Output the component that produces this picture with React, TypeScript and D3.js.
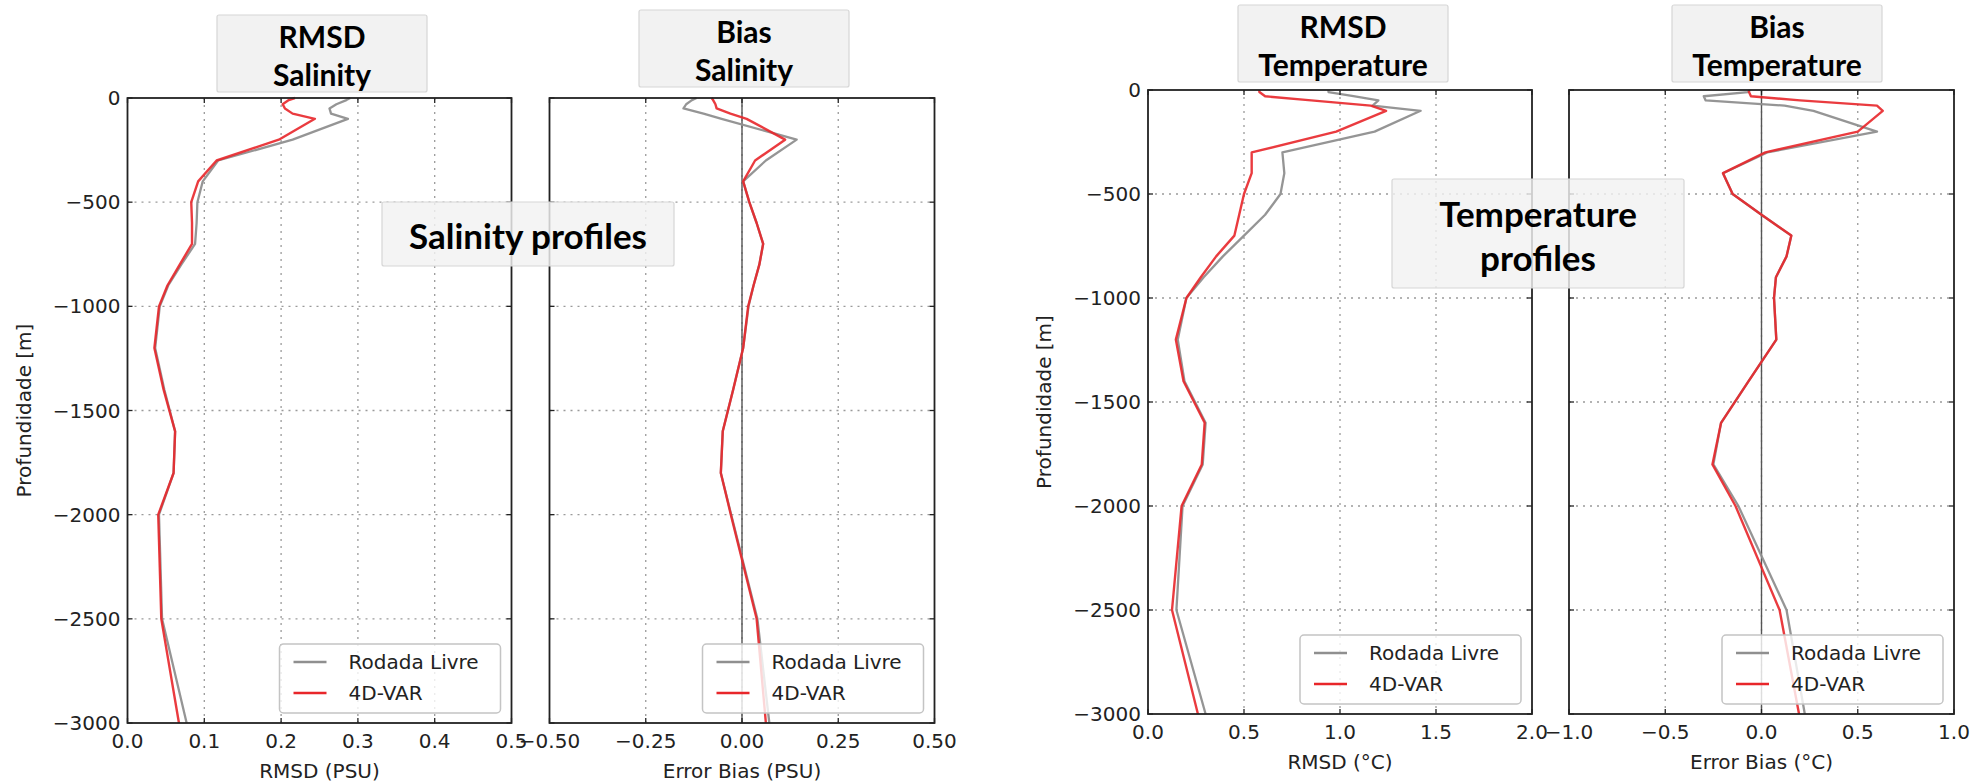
import React from 'react';
import * as d3 from 'd3';

// ---- data (depth levels in metres, positive down) ----
const depths = [0, 10, 30, 50, 75, 100, 200, 300, 400, 500, 600, 700, 800, 900, 1000, 1200, 1400, 1600, 1800, 2000, 2500, 3000];

const salRmsdLivre = [0.290, 0.285, 0.272, 0.263, 0.265, 0.287, 0.215, 0.118, 0.098, 0.091, 0.090, 0.088, 0.070, 0.053, 0.042, 0.036, 0.048, 0.062, 0.060, 0.041, 0.045, 0.077];
const salRmsd4dvar = [0.218, 0.210, 0.202, 0.205, 0.215, 0.244, 0.197, 0.116, 0.092, 0.083, 0.084, 0.084, 0.068, 0.052, 0.041, 0.035, 0.047, 0.062, 0.060, 0.040, 0.044, 0.067];

const salBiasLivre = [-0.118, -0.130, -0.145, -0.152, -0.100, -0.053, 0.142, 0.062, 0.003, 0.019, 0.038, 0.055, 0.045, 0.030, 0.017, 0.003, -0.023, -0.050, -0.055, -0.028, 0.040, 0.071];
const salBias4dvar = [-0.079, -0.075, -0.069, -0.066, -0.030, 0.012, 0.112, 0.034, 0.003, 0.019, 0.038, 0.055, 0.045, 0.030, 0.016, 0.003, -0.023, -0.050, -0.055, -0.029, 0.038, 0.062];

const tempRmsdLivre = [0.94, 0.94, 1.07, 1.20, 1.17, 1.42, 1.18, 0.70, 0.71, 0.69, 0.61, 0.50, 0.39, 0.29, 0.20, 0.155, 0.19, 0.30, 0.285, 0.18, 0.148, 0.30];
const tempRmsd4dvar = [0.58, 0.58, 0.61, 0.85, 1.16, 1.24, 0.98, 0.54, 0.54, 0.50, 0.475, 0.45, 0.355, 0.275, 0.20, 0.145, 0.185, 0.295, 0.28, 0.175, 0.125, 0.26];

const tempBiasLivre = [-0.06, -0.07, -0.30, -0.29, 0.12, 0.27, 0.60, 0.03, -0.20, -0.15, 0.00, 0.155, 0.13, 0.075, 0.065, 0.077, -0.067, -0.21, -0.25, -0.12, 0.13, 0.225];
const tempBias4dvar = [-0.065, -0.065, -0.055, 0.20, 0.60, 0.63, 0.50, 0.02, -0.20, -0.15, 0.00, 0.155, 0.13, 0.075, 0.065, 0.077, -0.067, -0.21, -0.255, -0.135, 0.094, 0.195];

const yTicks = [0, -500, -1000, -1500, -2000, -2500, -3000];
const salRmsdTicks = [0, 0.1, 0.2, 0.3, 0.4, 0.5];
const salBiasTicks = [-0.5, -0.25, 0, 0.25, 0.5];
const tempRmsdTicks = [0, 0.5, 1.0, 1.5, 2.0];
const tempBiasTicks = [-1, -0.5, 0, 0.5, 1];

const legendLabels = ['Rodada Livre', '4D-VAR'];
const yLabel = 'Profundidade [m]';

const W = 1979;
const H = 783;
const AX_FONT = "'DejaVu Sans', sans-serif";
const BOX_FONT = "Lato, 'Open Sans', sans-serif";
const GRAY = '#8f8f8f';
const RED = '#e8262a';

type Panel = {
  left: number; right: number; top: number; bottom: number;
  domain: [number, number]; ticks: number[]; fmt: string; xLabel: string;
  livre: number[]; vars: number[]; showY: boolean; zero: boolean;
};

const panels: Panel[] = [
  { left: 127.5, right: 511.5, top: 98, bottom: 723, domain: [0, 0.5], ticks: salRmsdTicks, fmt: '.1f', xLabel: 'RMSD (PSU)', livre: salRmsdLivre, vars: salRmsd4dvar, showY: true, zero: false },
  { left: 549.5, right: 934.5, top: 98, bottom: 723, domain: [-0.5, 0.5], ticks: salBiasTicks, fmt: '.2f', xLabel: 'Error Bias (PSU)', livre: salBiasLivre, vars: salBias4dvar, showY: false, zero: true },
  { left: 1148, right: 1532, top: 90, bottom: 714, domain: [0, 2], ticks: tempRmsdTicks, fmt: '.1f', xLabel: 'RMSD (°C)', livre: tempRmsdLivre, vars: tempRmsd4dvar, showY: true, zero: false },
  { left: 1569, right: 1954, top: 90, bottom: 714, domain: [-1, 1], ticks: tempBiasTicks, fmt: '.1f', xLabel: 'Error Bias (°C)', livre: tempBiasLivre, vars: tempBias4dvar, showY: false, zero: true },
];

type Box = { x: number; y: number; w: number; h: number; lines: string[]; size: number; lineY: number[]; alpha: number };
const boxes: Box[] = [
  { x: 217, y: 15, w: 210, h: 77, lines: ['RMSD', 'Salinity'], size: 30, lineY: [20.5, 58.5], alpha: 1 },
  { x: 639, y: 10, w: 210, h: 77, lines: ['Bias', 'Salinity'], size: 30, lineY: [20.5, 58.5], alpha: 1 },
  { x: 1238, y: 5, w: 210, h: 77, lines: ['RMSD', 'Temperature'], size: 30, lineY: [20.5, 58.5], alpha: 1 },
  { x: 1672, y: 5, w: 210, h: 77, lines: ['Bias', 'Temperature'], size: 30, lineY: [20.5, 58.5], alpha: 1 },
  { x: 382, y: 202, w: 292, h: 64, lines: ['Salinity profiles'], size: 35, lineY: [33], alpha: 0.82 },
  { x: 1392, y: 179, w: 292, h: 109, lines: ['Temperature', 'profiles'], size: 35, lineY: [34, 78], alpha: 0.82 },
];

function PanelView({ p }: { p: Panel }) {
  const x = d3.scaleLinear().domain(p.domain).range([p.left, p.right]);
  const y = d3.scaleLinear().domain([0, -3000]).range([p.top, p.bottom]);
  const line = d3.line<number>().x((v) => x(v)).y((_, i) => y(-depths[i]));
  const fmt = d3.format(p.fmt);
  const tl = 5;
  return (
    <g>
      {/* grid */}
      {p.ticks.filter((t) => t !== p.domain[0] && t !== p.domain[1]).map((t, i) => (
        <line key={'gx' + i} x1={x(t)} x2={x(t)} y1={p.top} y2={p.bottom} stroke="#9a9a9a" strokeWidth={1.3} strokeDasharray="2,5" />
      ))}
      {yTicks.filter((t) => t !== 0 && t !== -3000).map((t, i) => (
        <line key={'gy' + i} x1={p.left} x2={p.right} y1={y(t)} y2={y(t)} stroke="#9a9a9a" strokeWidth={1.3} strokeDasharray="2,5" />
      ))}
      {p.zero && <line x1={x(0)} x2={x(0)} y1={p.top} y2={p.bottom} stroke="#555" strokeWidth={1.4} />}
      {/* lines */}
      <path d={line(p.livre) || ''} fill="none" stroke={GRAY} strokeWidth={2.3} strokeOpacity={0.95} strokeLinejoin="round" />
      <path d={line(p.vars) || ''} fill="none" stroke={RED} strokeWidth={2.4} strokeOpacity={0.9} strokeLinejoin="round" />
      {/* ticks */}
      {p.ticks.map((t, i) => (
        <g key={'tx' + i}>
          <line x1={x(t)} x2={x(t)} y1={p.bottom} y2={p.bottom - tl} stroke="#222" strokeWidth={1.3} />
          <line x1={x(t)} x2={x(t)} y1={p.top} y2={p.top + tl} stroke="#222" strokeWidth={1.3} />
          <text x={x(t)} y={p.bottom + 18} textAnchor="middle" dominantBaseline="central" fontFamily={AX_FONT} fontSize={20} fill="#222">{fmt(t)}</text>
        </g>
      ))}
      {yTicks.map((t, i) => (
        <g key={'ty' + i}>
          <line x1={p.left} x2={p.left + tl} y1={y(t)} y2={y(t)} stroke="#222" strokeWidth={1.3} />
          <line x1={p.right} x2={p.right - tl} y1={y(t)} y2={y(t)} stroke="#222" strokeWidth={1.3} />
          {p.showY && (
            <text x={p.left - 7} y={y(t)} textAnchor="end" dominantBaseline="central" fontFamily={AX_FONT} fontSize={20} fill="#222">{d3.format('d')(t)}</text>
          )}
        </g>
      ))}
      {/* frame */}
      <rect x={p.left} y={p.top} width={p.right - p.left} height={p.bottom - p.top} fill="none" stroke="#222" strokeWidth={1.8} />
      {/* labels */}
      <text x={(p.left + p.right) / 2} y={p.bottom + 48} textAnchor="middle" dominantBaseline="central" fontFamily={AX_FONT} fontSize={20} fill="#222">{p.xLabel}</text>
      {p.showY && (
        <text transform={`translate(${p.left - 104},${(p.top + p.bottom) / 2}) rotate(-90)`} textAnchor="middle" dominantBaseline="central" fontFamily={AX_FONT} fontSize={20} fill="#222">{yLabel}</text>
      )}
      {/* legend */}
      <g transform={`translate(${p.right - 232},${p.bottom - 79})`}>
        <rect width={221} height={69} rx={4} fill="#fff" fillOpacity={0.8} stroke="#c4c4c4" strokeWidth={1.5} />
        <line x1={14} x2={47} y1={18} y2={18} stroke={GRAY} strokeWidth={2.3} />
        <text x={69} y={18} dominantBaseline="central" fontFamily={AX_FONT} fontSize={20} fill="#222">{legendLabels[0]}</text>
        <line x1={14} x2={47} y1={49} y2={49} stroke={RED} strokeWidth={2.4} />
        <text x={69} y={49} dominantBaseline="central" fontFamily={AX_FONT} fontSize={20} fill="#222">{legendLabels[1]}</text>
      </g>
    </g>
  );
}

function BoxView({ b }: { b: Box }) {
  return (
    <g>
      <rect x={b.x} y={b.y} width={b.w} height={b.h} rx={2} fill="#f2f2f2" fillOpacity={b.alpha} stroke="#d6d6d6" strokeWidth={1.2} />
      {b.lines.map((s, i) => (
        <text key={i} x={b.x + b.w / 2} y={b.y + b.lineY[i]} textAnchor="middle" dominantBaseline="central" fontFamily={BOX_FONT} fontWeight={700} fontSize={b.size} fill="#000">{s}</text>
      ))}
    </g>
  );
}

export default function App() {
  return (
    <svg width={W} height={H} viewBox={`0 0 ${W} ${H}`} style={{ position: 'absolute', left: 0, top: 0, background: '#fff' }}>
      <rect width={W} height={H} fill="#fff" />
      {panels.map((p, i) => <PanelView key={i} p={p} />)}
      {boxes.map((b, i) => <BoxView key={i} b={b} />)}
    </svg>
  );
}
